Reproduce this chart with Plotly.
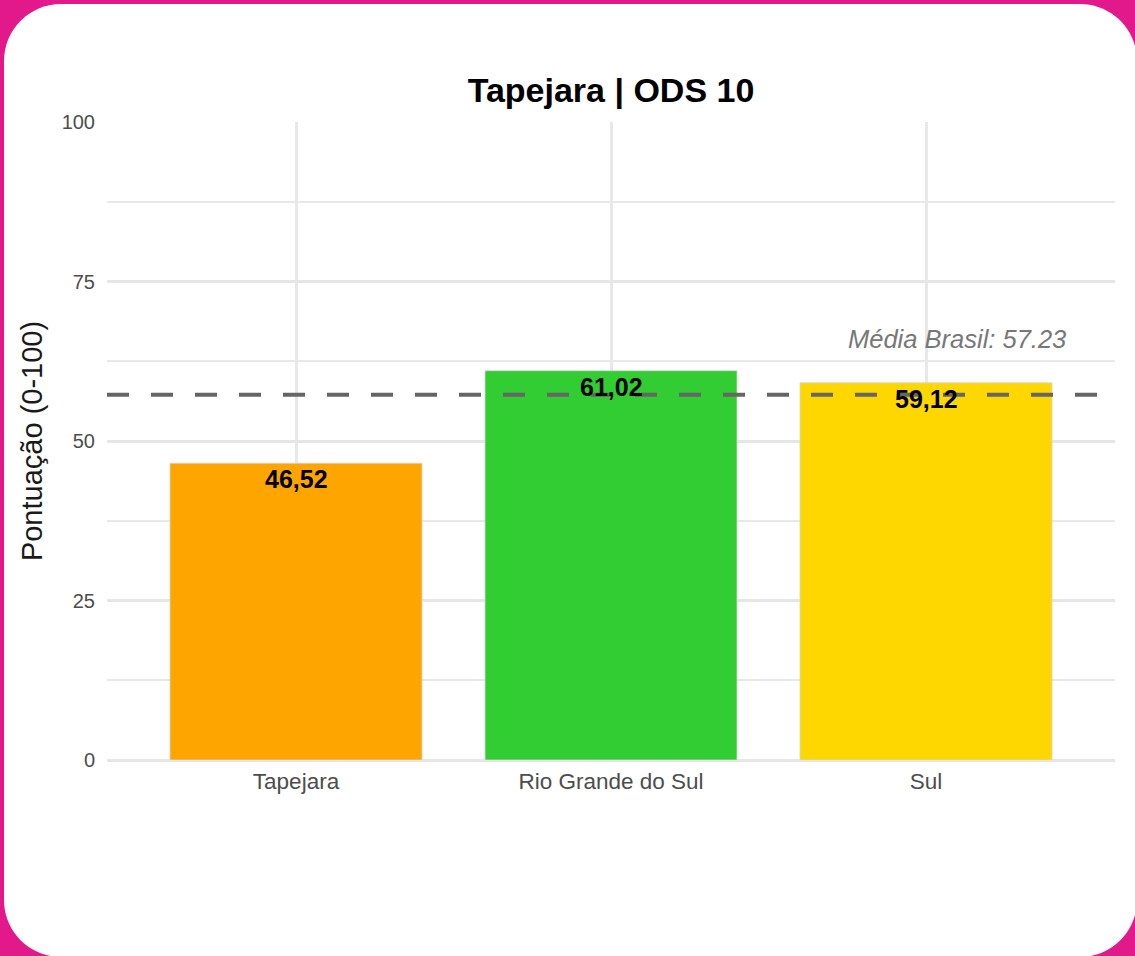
import plotly.graph_objects as go

# dados
locais = ["Tapejara", "Rio Grande do Sul", "Sul"]
pontuacao = [46.52, 61.02, 59.12]
cores = ["#FFA500", "#32CD32", "#FFD700"]
media_brasil = 57.23
y_ticks = [0, 25, 50, 75, 100]

W, H = 1135, 956
L, R, T, B = 107, 20, 122, 196
pw, ph = W - L - R, H - T - B


def px2paper(x, y):
    return (x - L) / pw, (H - B - y) / ph


def rounded_rect(x0, y0, x1, y1, r):
    k = 0.5523 * r
    pts = [
        ("M", [(x0 + r, y0)]),
        ("L", [(x1 - r, y0)]),
        ("C", [(x1 - r + k, y0), (x1, y0 + r - k), (x1, y0 + r)]),
        ("L", [(x1, y1 - r)]),
        ("C", [(x1, y1 - r + k), (x1 - r + k, y1), (x1 - r, y1)]),
        ("L", [(x0 + r, y1)]),
        ("C", [(x0 + r - k, y1), (x0, y1 - r + k), (x0, y1 - r)]),
        ("L", [(x0, y0 + r)]),
        ("C", [(x0, y0 + r - k), (x0 + r - k, y0), (x0 + r, y0)]),
    ]
    path = ""
    for cmd, ps in pts:
        coords = " ".join("%.5f,%.5f" % px2paper(a, b) for a, b in ps)
        path += cmd + coords + " "
    return path + "Z"


fig = go.Figure()
fig.add_bar(
    x=locais,
    y=pontuacao,
    marker=dict(color=cores, line=dict(color="#d6d6d6", width=0.8)),
    width=0.8,
    hoverinfo="skip",
)

# linha da média
fig.add_hline(
    y=media_brasil,
    line=dict(color="#666666", width=4, dash="22px,22px"),
    layer="above",
)

# rótulos das barras
for loc, val in zip(locais, pontuacao):
    fig.add_annotation(
        x=loc,
        y=val,
        text="<b>%s</b>" % f"{val:.2f}".replace(".", ","),
        showarrow=False,
        yanchor="middle",
        yshift=-16,
        font=dict(size=25, color="black"),
    )

fig.add_annotation(
    xref="paper",
    x=(1068 - L) / pw,
    y=media_brasil,
    text="<i>Média Brasil: %.2f</i>" % media_brasil,
    showarrow=False,
    xanchor="right",
    yanchor="middle",
    yshift=56,
    font=dict(size=25.5, color="#777777"),
)

# painel branco arredondado
fig.add_shape(
    type="path",
    xref="paper",
    yref="paper",
    path=rounded_rect(4, 4, 1137, 957, 57),
    fillcolor="white",
    line=dict(width=0),
    layer="below",
)

fig.update_layout(
    width=W,
    height=H,
    margin=dict(l=L, r=R, t=T, b=B),
    paper_bgcolor="#E2198A",
    plot_bgcolor="white",
    showlegend=False,
    font=dict(family="Liberation Sans, Arial, sans-serif"),
    title=dict(
        text="<b>Tapejara | ODS 10</b>",
        x=0.5,
        xref="paper",
        y=1 - 90 / H,
        yref="container",
        yanchor="middle",
        font=dict(size=34, color="black"),
    ),
    xaxis=dict(
        range=[-0.6, 2.6],
        showgrid=True,
        gridcolor="#e8e8e8",
        gridwidth=2.5,
        tickfont=dict(size=22.5, color="#4d4d4d"),
        ticks="outside",
        ticklen=1,
        tickcolor="rgba(0,0,0,0)",
        showline=False,
        zeroline=False,
    ),
    yaxis=dict(
        range=[0, 100],
        tickvals=y_ticks,
        showgrid=True,
        gridcolor="#e6e6e6",
        gridwidth=2.5,
        zeroline=True,
        zerolinecolor="#e6e6e6",
        zerolinewidth=2.5,
        minor=dict(dtick=12.5, showgrid=True, gridcolor="#e8e8e8", gridwidth=1.8),
        tickfont=dict(size=20, color="#4d4d4d"),
        ticks="outside",
        ticklen=7,
        tickcolor="rgba(0,0,0,0)",
        title=dict(
            text="Pontuação (0-100)",
            font=dict(size=29, color="#1a1a1a"),
            standoff=10,
        ),
    ),
)

# sem margem no body para a figura ocupar a janela inteira
fig.write_html(
    "out.html",
    config={"displayModeBar": False},
    post_script="document.body.style.margin = '0';",
)
